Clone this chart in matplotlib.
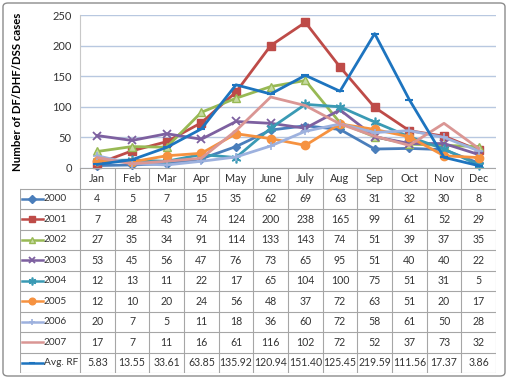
import matplotlib
matplotlib.use("Agg")
import matplotlib.pyplot as plt
from matplotlib.patches import FancyBboxPatch

# month names as written in the table header
months = ["Jan", "Feb", "Mar", "Apr", "May", "June", "July", "Aug", "Sep", "Oct", "Nov", "Dec"]

# cases per month for each year
cases_2000 = [4, 5, 7, 15, 35, 62, 69, 63, 31, 32, 30, 8]
cases_2001 = [7, 28, 43, 74, 124, 200, 238, 165, 99, 61, 52, 29]
cases_2002 = [27, 35, 34, 91, 114, 133, 143, 74, 51, 39, 37, 35]
cases_2003 = [53, 45, 56, 47, 76, 73, 65, 95, 51, 40, 40, 22]
cases_2004 = [12, 13, 11, 22, 17, 65, 104, 100, 75, 51, 31, 5]
cases_2005 = [12, 10, 20, 24, 56, 48, 37, 72, 63, 51, 20, 17]
cases_2006 = [20, 7, 5, 11, 18, 36, 60, 72, 58, 61, 50, 28]
cases_2007 = [17, 7, 11, 16, 61, 116, 102, 72, 52, 37, 73, 32]
avg_rf = [5.83, 13.55, 33.61, 63.85, 135.92, 120.94, 151.40, 125.45, 219.59, 111.56, 17.37, 3.86]

series_names = ["2000", "2001", "2002", "2003", "2004", "2005", "2006", "2007", "Avg. RF"]
series_values = [cases_2000, cases_2001, cases_2002, cases_2003, cases_2004,
                 cases_2005, cases_2006, cases_2007, avg_rf]

# look of each series (Excel 2007 style)
styles = [
    dict(color="#4A7EBB", marker="D", ms=4.5),
    dict(color="#BE4B48", marker="s", ms=6),
    dict(color="#98B954", marker="^", ms=6, mfc="#C5D9A0"),
    dict(color="#7D60A0", marker="x", ms=6, mew=1.3),
    dict(color="#3A9AB4", marker=(6, 2, 0), ms=7, mew=1.2),
    dict(color="#F69240", marker="o", ms=6),
    dict(color="#9DB1DE", marker="+", ms=6, mew=1.2),
    dict(color="#DA9694", marker="None", ms=0),
    dict(color="#1D74BF", marker="_", ms=6, mew=1.5),
]

FONT = "Lato"
W, H = 508, 379


def box(left, top, right, bottom):
    # pixel box -> figure fraction rect
    return [left / W, 1 - bottom / H, (right - left) / W, (bottom - top) / H]


fig = plt.figure(figsize=(W / 100, H / 100), dpi=100)
fig.patch.set_facecolor("white")

# outer chart border
fig.patches.append(FancyBboxPatch((3 / W, 3 / H), 1 - 6 / W, 1 - 6 / H,
                                  boxstyle="round,pad=0,rounding_size=0.01",
                                  transform=fig.transFigure, fill=False,
                                  edgecolor="#8C8C8C", linewidth=1.0))

# ---- line chart ----
ax = fig.add_axes(box(80, 15, 496, 168))
x = list(range(len(months)))
for vals, st in zip(series_values, styles):
    ax.plot(x, vals, color=st["color"], lw=2.0, marker=st["marker"], ms=st["ms"],
            mfc=st.get("mfc", st["color"]), mec=st["color"], mew=st.get("mew", 1),
            clip_on=False, zorder=3)

ax.set_xlim(-0.5, 11.5)
ax.set_ylim(0, 250)
ax.set_yticks(range(0, 251, 50))
ax.set_xticks([])
ax.grid(axis="y", color="#B8C8E0", lw=1.0)
ax.set_axisbelow(True)
for s in ["top", "right", "bottom"]:
    ax.spines[s].set_visible(False)
ax.spines["left"].set_color("#C8C8C8")
ax.tick_params(axis="y", length=0, pad=6, labelsize=8, labelcolor="#333333")
for lbl in ax.get_yticklabels():
    lbl.set_fontfamily(FONT)

fig.text(18 / W, 1 - 92 / H, "Number of DF/DHF/DSS cases", rotation=90,
         ha="center", va="center", fontsize=8.2, fontweight="bold", family=FONT)

# ---- data table ----
tab = fig.add_axes(box(20, 168, 496, 373))
unit = 416 / 12  # pixels per month column
x_left = -0.5 - 60 / unit
n_rows = len(series_names) + 1
tab.set_xlim(x_left, 11.5)
tab.set_ylim(n_rows, 0)
tab.axis("off")

grid_kw = dict(color="#A6A6A6", lw=0.8)
tab.plot([-0.5, 11.5], [0, 0], **grid_kw)
for r in range(1, n_rows + 1):
    tab.plot([x_left, 11.5], [r, r], **grid_kw)
for i in range(len(months) + 1):
    tab.plot([i - 0.5, i - 0.5], [0, n_rows], **grid_kw)
tab.plot([x_left, x_left], [1, n_rows], **grid_kw)

for i, m in enumerate(months):
    tab.text(i, 0.5, m, ha="center", va="center", fontsize=7.8, family=FONT, color="#333333")

for r, (name, vals, st) in enumerate(zip(series_names, series_values, styles)):
    yy = r + 1.5
    k0, k1 = x_left + 2 / unit, x_left + 23 / unit
    tab.plot([k0, k1], [yy, yy], color=st["color"], lw=1.8)
    if st["ms"]:
        tab.plot([(k0 + k1) / 2], [yy], color=st["color"], marker=st["marker"],
                 ms=st["ms"] * 0.8, mfc=st.get("mfc", st["color"]), mec=st["color"],
                 mew=st.get("mew", 1))
    tab.text(x_left + 24 / unit, yy, name, ha="left", va="center", fontsize=7.3,
             family=FONT, color="#333333")
    for i, v in enumerate(vals):
        txt = f"{v:.2f}" if name == "Avg. RF" else str(v)
        tab.text(i, yy, txt, ha="center", va="center", fontsize=7.6,
                 family=FONT, color="#333333")

fig.savefig("out.png", dpi=100)
